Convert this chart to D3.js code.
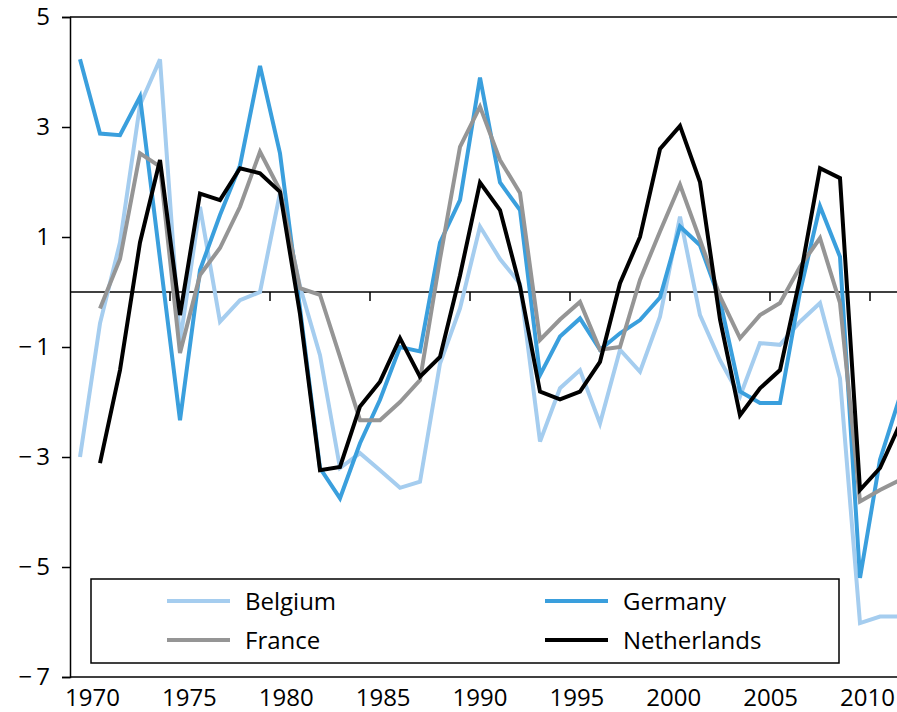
<!DOCTYPE html>
<html>
<head>
<meta charset="utf-8">
<script src="https://cdn.jsdelivr.net/npm/d3@7"></script>
<style>
  body { margin: 0; background: #fff; }
  svg { display: block; }
  text { font-family: "Open Sans", "Noto Sans", sans-serif; fill: #000; }
</style>
</head>
<body>
<div id="chart"></div>
<script>
"use strict";

// Output gap by year, 1970-2011 (null = no value)
const years = d3.range(1970, 2012);
const belgium = [-3.0, -0.57, 0.9, 3.4, 4.23, -0.9, 1.55, -0.54, -0.15, 0.0,
    1.8, 0.1, -1.15, -3.2, -2.93, -3.24, -3.56, -3.45, -1.3, -0.3,
    1.19, 0.6, 0.15, -2.72, -1.75, -1.42, -2.39, -1.05, -1.45, -0.45,
    1.37, -0.42, -1.24, -1.9, -0.93, -0.96, -0.54, -0.2, -1.57, -6.02,
    -5.9, -5.9];
const germany = [4.23, 2.88, 2.85, 3.55, 0.6, -2.33, 0.4, 1.4, 2.3, 4.11,
    2.52, -0.3, -3.2, -3.75, -2.75, -1.96, -1.0, -1.08, 0.9, 1.67,
    3.9, 1.99, 1.49, -1.51, -0.81, -0.48, -1.05, -0.75, -0.51, -0.1,
    1.19, 0.85, -0.15, -1.81, -2.02, -2.02, 0.0, 1.56, 0.64, -5.2,
    -3.05, -1.9];
const france = [null, -0.3, 0.6, 2.52, 2.28, -1.11, 0.31, 0.8, 1.55, 2.55,
    1.85, 0.07, -0.05, -1.18, -2.33, -2.33, -2.0, -1.6, 0.6, 2.64,
    3.37, 2.4, 1.8, -0.87, -0.5, -0.18, -1.05, -1.0, 0.22, 1.1,
    1.95, 0.95, -0.08, -0.84, -0.42, -0.2, 0.46, 0.98, -0.2, -3.81,
    -3.6, -3.42];
const netherlands = [null, -3.11, -1.42, 0.9, 2.4, -0.42, 1.79, 1.67, 2.25, 2.16,
    1.82, -0.4, -3.24, -3.18, -2.08, -1.63, -0.84, -1.54, -1.18, 0.3,
    1.99, 1.49, 0.1, -1.81, -1.95, -1.81, -1.27, 0.16, 1.0, 2.6,
    3.02, 2.0, -0.5, -2.24, -1.75, -1.42, 0.25, 2.25, 2.07, -3.6,
    -3.2, -2.4];

const series_names = ["Belgium", "Germany", "France", "Netherlands"];
const series_values = [belgium, germany, france, netherlands];
const series_colors = ["#a5cdef", "#3a9fdd", "#959595", "#000000"];

const y_ticks = [5, 3, 1, -1, -3, -5, -7];
const x_tick_labels = [1970, 1975, 1980, 1985, 1990, 1995, 2000, 2005, 2010];

const width = 897, height = 712;
const margins = {top: 17, left: 70, bottom: 35};

const svg = d3.select("#chart").append("svg")
    .attr("width", width)
    .attr("height", height);

// one band per year, points at band centres
const x_band = d3.scaleBand()
    .domain(years)
    .range([margins.left, margins.left + 20 * years.length])
    .padding(0);
const x_point = d => x_band(d) + x_band.bandwidth() / 2;

const y_scale = d3.scaleLinear()
    .domain([-7, 5])
    .range([height - margins.bottom, margins.top]);

const right = margins.left + 20 * years.length;

// frame: top and bottom lines
svg.append("line")
    .attr("x1", margins.left).attr("x2", right)
    .attr("y1", y_scale(5)).attr("y2", y_scale(5))
    .attr("stroke", "#000").attr("stroke-width", 1.5);
svg.append("line")
    .attr("x1", margins.left).attr("x2", right)
    .attr("y1", y_scale(-7)).attr("y2", y_scale(-7))
    .attr("stroke", "#000").attr("stroke-width", 1.5);

// zero line with ticks every 5 years (at band edges)
svg.append("line")
    .attr("x1", margins.left).attr("x2", right)
    .attr("y1", y_scale(0)).attr("y2", y_scale(0))
    .attr("stroke", "#000").attr("stroke-width", 1.5);
svg.append("g")
    .selectAll("line")
    .data(years.filter((d, i) => i > 0 && i % 5 === 0))
    .join("line")
    .attr("x1", d => x_band(d)).attr("x2", d => x_band(d))
    .attr("y1", y_scale(0)).attr("y2", y_scale(0) + 9)
    .attr("stroke", "#000").attr("stroke-width", 1.5);

// Y axis
const y_axis = d3.axisLeft(y_scale)
    .tickValues(y_ticks)
    .tickSize(8)
    .tickPadding(12)
    .tickFormat(d => d < 0 ? "\u2212\u2009" + Math.abs(d) : d);
const y_g = svg.append("g")
    .attr("transform", "translate(" + margins.left + ",0)")
    .call(y_axis);
y_g.select(".domain").attr("stroke-width", 1.5);
y_g.selectAll(".tick line").attr("stroke-width", 1.5);
y_g.selectAll("text").style("font-size", "24px").attr("fill", "#000");

// X labels (placed by year)
const x_label_scale = d3.scaleLinear().domain([1970, 2010]).range([92, 867]);
const x_axis = d3.axisBottom(x_label_scale)
    .tickValues(x_tick_labels)
    .tickSize(0)
    .tickPadding(12)
    .tickFormat(d3.format("d"));
const x_g = svg.append("g")
    .attr("transform", "translate(0," + y_scale(-7) + ")")
    .call(x_axis);
x_g.select(".domain").remove();
x_g.selectAll("text").style("font-size", "24px").attr("fill", "#000");

// data lines
const line = d3.line()
    .defined(d => d.v !== null)
    .x(d => x_point(d.year))
    .y(d => y_scale(d.v));

series_values.forEach(function (values, k) {
    svg.append("path")
        .datum(years.map((year, i) => ({year: year, v: values[i]})))
        .attr("fill", "none")
        .attr("stroke", series_colors[k])
        .attr("stroke-width", 4)
        .attr("d", line);
});

// legend
const legend = svg.append("g");
legend.append("rect")
    .attr("x", 91).attr("y", 579)
    .attr("width", 748).attr("height", 84)
    .attr("fill", "#fff")
    .attr("stroke", "#000").attr("stroke-width", 1.5);

const legend_pos = [[167, 601], [545, 601], [167, 640], [545, 640]];
series_names.forEach(function (name, k) {
    const p = legend_pos[k];
    legend.append("line")
        .attr("x1", p[0]).attr("x2", p[0] + 63)
        .attr("y1", p[1]).attr("y2", p[1])
        .attr("stroke", series_colors[k]).attr("stroke-width", 4);
    legend.append("text")
        .attr("x", p[0] + 78).attr("y", p[1] + 9)
        .style("font-size", "24px")
        .text(name);
});
</script>
</body>
</html>
